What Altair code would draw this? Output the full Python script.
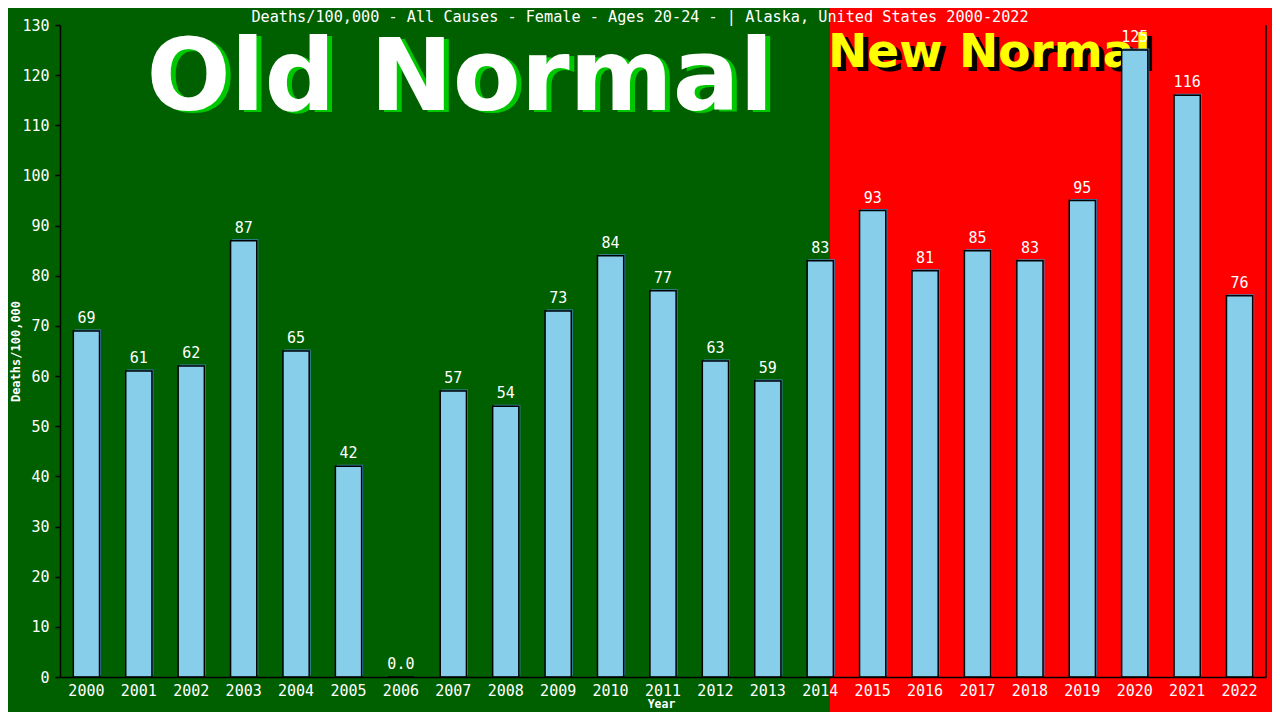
import altair as alt
import pandas as pd

years = [str(y) for y in range(2000, 2023)]
values = [69, 61, 62, 87, 65, 42, 0, 57, 54, 73, 84, 77, 63, 59, 83, 93, 81, 85, 83, 95, 125, 116, 76]
labels = ["69", "61", "62", "87", "65", "42", "0.0", "57", "54", "73", "84", "77", "63", "59", "83",
          "93", "81", "85", "83", "95", "125", "116", "76"]
title_text = "Deaths/100,000 - All Causes - Female - Ages 20-24 -  | Alaska, United States 2000-2022"

df = pd.DataFrame({"year": years, "value": values, "label": labels})
one = pd.DataFrame({"a": [0]})

MONO = "DejaVu Sans Mono"
W, H = 1206, 652

xenc = alt.X("year:N", scale=alt.Scale(paddingInner=0.5, paddingOuter=0.254),
             axis=alt.Axis(title="Year", labelAngle=0, labelColor="white", labelFont=MONO,
                           labelFontSize=15, labelBaseline="middle", labelPadding=13,
                           ticks=False, tickSize=0, domainColor="black", domainWidth=1.5,
                           titleColor="white", titleFont=MONO, titleFontSize=11.5,
                           titleFontWeight="bold", titleX=601, titleY=27,
                           titleBaseline="middle", titleAlign="center", zindex=2))
yenc = alt.Y("value:Q", scale=alt.Scale(domain=[0, 130], nice=False),
             axis=alt.Axis(title="Deaths/100,000", values=list(range(0, 131, 10)),
                           labelColor="white", labelFont=MONO, labelFontSize=15,
                           labelPadding=6, tickSize=5, tickColor="black", tickWidth=1.5,
                           domainColor="black", domainWidth=1.5, grid=False,
                           titleColor="white", titleFont=MONO, titleFontSize=12,
                           titleFontWeight="bold", titleAngle=270, titleX=-44.5, titleY=326,
                           titleAlign="center", titleBaseline="middle", zindex=2))

red = alt.Chart(one).mark_rect(color="#ff0000").encode(
    x=alt.value(770), x2=alt.value(1212), y=alt.value(-17), y2=alt.value(687))

old_sh = alt.Chart(one).mark_text(text="Old Normal", font="DejaVu Sans", fontWeight="bold",
                                  fontSize=99, color="#00c800", align="center",
                                  baseline="alphabetic").encode(x=alt.value(405), y=alt.value(87))
old = alt.Chart(one).mark_text(text="Old Normal", font="DejaVu Sans", fontWeight="bold",
                               fontSize=99, color="white", align="center",
                               baseline="alphabetic").encode(x=alt.value(400), y=alt.value(85))
new_sh = alt.Chart(one).mark_text(text="New Normal", font="DejaVu Sans", fontWeight="bold",
                                  fontSize=47, color="black", align="left",
                                  baseline="alphabetic").encode(x=alt.value(773), y=alt.value(46))
new = alt.Chart(one).mark_text(text="New Normal", font="DejaVu Sans", fontWeight="bold",
                               fontSize=47, color="#ffff00", align="left",
                               baseline="alphabetic").encode(x=alt.value(768), y=alt.value(42))

base = alt.Chart(df)
bar_sh = base.mark_bar(color="#3f84b8", xOffset=1.5, yOffset=-1.5).encode(x=xenc, y=yenc)
bars = base.mark_bar(color="#87ceeb", stroke="black", strokeWidth=1.5).encode(x=xenc, y=yenc)
text = base.mark_text(color="white", font=MONO, fontSize=15, baseline="alphabetic", dy=-8).encode(
    x=xenc, y=yenc, text="label:N")

right_line = alt.Chart(one).mark_rule(color="black", strokeWidth=1.5).encode(
    x=alt.value(W), y=alt.value(0), y2=alt.value(H))

title = alt.Chart(one).mark_text(text=title_text, font=MONO, fontSize=15.2, color="white",
                                 align="center", baseline="middle").encode(
    x=alt.value(580), y=alt.value(-8))

chart = alt.layer(red, old_sh, old, new_sh, new, bar_sh, bars, text, right_line, title).properties(
    width=W, height=H,
    padding={"left": 52, "top": 17, "right": 6, "bottom": 35},
    autosize=alt.AutoSizeParams(type="none"),
    background="#006000",
).configure_view(stroke=None)

chart.save("out.html", embed_options={"renderer": "svg", "actions": False})
